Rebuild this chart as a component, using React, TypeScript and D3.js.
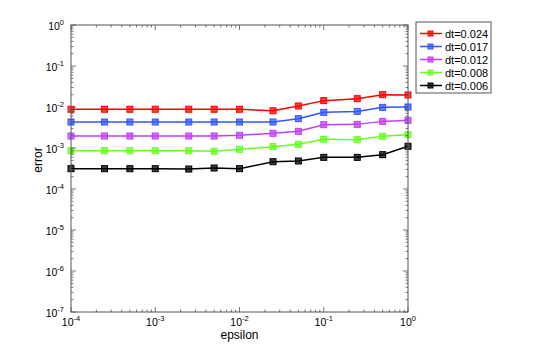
import React from "react";
import * as d3 from "d3";

const epsilons = [1e-4, 2.5e-4, 5e-4, 1e-3, 2.5e-3, 5e-3, 1e-2, 2.5e-2, 5e-2, 0.1, 0.25, 0.5, 1];
const seriesNames = ["dt=0.024", "dt=0.017", "dt=0.012", "dt=0.008", "dt=0.006"];
const seriesColors = ["#ff0000", "#3355ff", "#bf3fff", "#66ff22", "#000000"];
const errRed = [0.0088, 0.0088, 0.0088, 0.0088, 0.0088, 0.0088, 0.0088, 0.0081, 0.0106, 0.0143, 0.016, 0.02, 0.0196];
const errBlue = [0.0043, 0.0043, 0.0043, 0.0043, 0.0043, 0.0043, 0.0043, 0.0043, 0.0052, 0.0074, 0.0078, 0.0098, 0.01];
const errMagenta = [0.00196, 0.00196, 0.00196, 0.00196, 0.00196, 0.00196, 0.00204, 0.00228, 0.00255, 0.00371, 0.00377, 0.00446, 0.00473];
const errGreen = [0.00086, 0.00086, 0.00086, 0.00086, 0.00086, 0.00083, 0.00093, 0.00108, 0.00123, 0.00163, 0.0016, 0.00193, 0.00211];
const errBlack = [0.000313, 0.000313, 0.000313, 0.000313, 0.000307, 0.000325, 0.000313, 0.000463, 0.000482, 0.000591, 0.000591, 0.000687, 0.0011];
const xTickExps = [-4, -3, -2, -1, 0];
const yTickExps = [-7, -6, -5, -4, -3, -2, -1, 0];

const allSeries = [errRed, errBlue, errMagenta, errGreen, errBlack];

const W = 545, H = 351;
const L = 71, R = 408, T = 25, B = 312;
const axisColor = "#555";
const font = "'Liberation Sans', Arial, Helvetica, sans-serif";

export default function App() {
  const x = d3.scaleLog().domain([1e-4, 1]).range([L, R]);
  const y = d3.scaleLog().domain([1e-7, 1]).range([B, T]);
  const line = d3.line<number>().x((_, i) => x(epsilons[i])).y((v) => y(v));

  const xMinor: number[] = [];
  for (let e = -4; e < 0; e++) for (let k = 2; k <= 9; k++) xMinor.push(k * Math.pow(10, e));
  const yMinor: number[] = [];
  for (let e = -7; e < 0; e++) for (let k = 2; k <= 9; k++) yMinor.push(k * Math.pow(10, e));

  const legX = 416, legY = 22, legW = 75, legH = 71;
  return (
    <svg width={W} height={H} style={{ position: "absolute", left: 0, top: 0 }} fontFamily={font}>
      <rect x={0} y={0} width={W} height={H} fill="#fff" />
      {allSeries.map((s, si) => (
        <g key={si}>
          <path d={line(s) || ""} fill="none" stroke={seriesColors[si]} strokeWidth={1.5} />
          {s.map((v, i) => (
            <g key={i}>
              <rect x={x(epsilons[i]) - 3} y={y(v) - 3} width={6} height={6} fill={seriesColors[si]} fillOpacity={0.75} stroke={seriesColors[si]} strokeWidth={1} />
            </g>
          ))}
        </g>
      ))}
      {/* ticks */}
      <g stroke={axisColor} strokeWidth={0.8}>
        {xTickExps.map((e) => {
          const px = x(Math.pow(10, e));
          return (
            <g key={"xt" + e}>
              <line x1={px} x2={px} y1={B} y2={B - 5} />
              <line x1={px} x2={px} y1={T} y2={T + 5} />
            </g>
          );
        })}
        {xMinor.map((v, i) => (
          <g key={"xm" + i}>
            <line x1={x(v)} x2={x(v)} y1={B} y2={B - 2.5} />
            <line x1={x(v)} x2={x(v)} y1={T} y2={T + 2.5} />
          </g>
        ))}
        {yTickExps.map((e) => {
          const py = y(Math.pow(10, e));
          return (
            <g key={"yt" + e}>
              <line x1={L} x2={L + 5} y1={py} y2={py} />
              <line x1={R} x2={R - 5} y1={py} y2={py} />
            </g>
          );
        })}
        {yMinor.map((v, i) => (
          <g key={"ym" + i}>
            <line x1={L} x2={L + 2.5} y1={y(v)} y2={y(v)} />
            <line x1={R} x2={R - 2.5} y1={y(v)} y2={y(v)} />
          </g>
        ))}
      </g>
      <rect x={L} y={T} width={R - L} height={B - T} fill="none" stroke={axisColor} strokeWidth={1} />
      {/* tick labels */}
      {xTickExps.map((e) => (
        <text key={"xl" + e} x={x(Math.pow(10, e))} y={326} fontSize={10.5} textAnchor="middle" fill="#000">
          10<tspan dy={-5} fontSize={7.5}>{e}</tspan>
        </text>
      ))}
      {yTickExps.map((e) => (
        <text key={"yl" + e} x={64} y={y(Math.pow(10, e)) + 4.5} fontSize={10.5} textAnchor="end" fill="#000">
          10<tspan dy={-5} fontSize={7.5}>{e}</tspan>
        </text>
      ))}
      <text x={(L + R) / 2} y={339} fontSize={12} textAnchor="middle">epsilon</text>
      <text transform={`translate(${42},${160}) rotate(-90)`} fontSize={12} textAnchor="middle">error</text>
      {/* legend */}
      <rect x={legX} y={legY} width={legW} height={legH} fill="#fff" stroke={axisColor} strokeWidth={1} />
      {seriesNames.map((n, i) => {
        const ly = legY + 11.5 + i * 13;
        return (
          <g key={n}>
            <line x1={legX + 4} x2={legX + 26} y1={ly} y2={ly} stroke={seriesColors[i]} strokeWidth={1.5} />
            <rect x={legX + 12} y={ly - 2.5} width={5} height={5} fill={seriesColors[i]} fillOpacity={0.75} stroke={seriesColors[i]} />
            <text x={legX + 29} y={ly + 4} fontSize={11}>{n}</text>
          </g>
        );
      })}
    </svg>
  );
}
